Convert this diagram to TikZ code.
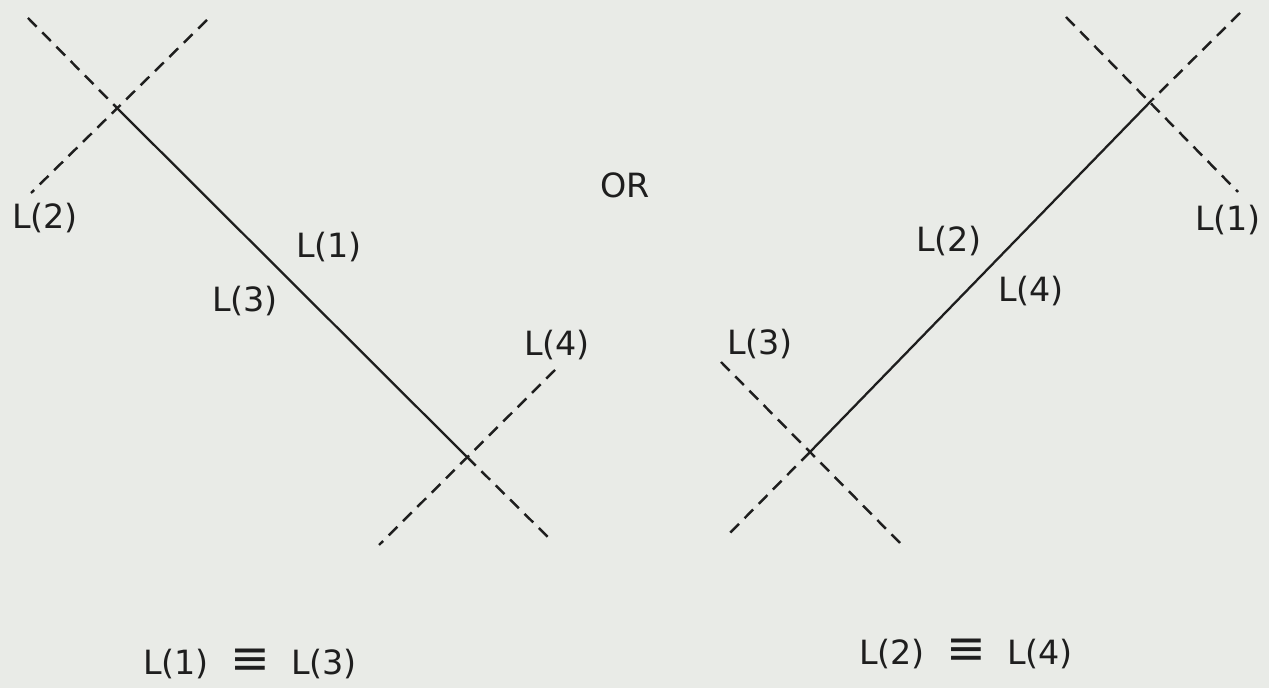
\documentclass[tikz,border=0pt]{standalone}
\usepackage{fontspec}
\setmainfont{DejaVu Sans}
\definecolor{paper}{RGB}{233,235,231}
\definecolor{ink}{RGB}{30,30,30}
\newcommand{\bigeq}{{\fontsize{27}{27}\selectfont ≡}}
\begin{document}
\begin{tikzpicture}[x=0.02cm, y=-0.02cm,
    ray/.style={ink, line width=1.3pt},
    guide/.style={ink, line width=1.4pt, dash pattern=on 7pt off 4.5pt},
    lab/.style={ink, font=\fontsize{19}{23}\selectfont, inner sep=0pt}]
    \fill[paper] (0,0) rectangle (1269,688);
    \useasboundingbox (0,0) rectangle (1269,688);

    % left case
    \coordinate (A) at (117,108);
    \coordinate (B) at (467,457);
    \coordinate (A1) at (28,18);
    \coordinate (A2) at (207,20);
    \coordinate (A3) at (31,193);
    \coordinate (B1) at (553,542);
    \coordinate (B2) at (555,370);
    \coordinate (B3) at (379,545);

    \draw[ray] (A) -- (B);
    \draw[guide] (A1) -- (A);
    \draw[guide] (A2) -- (A3);
    \draw[guide] (B) -- (B1);
    \draw[guide] (B2) -- (B3);

    % right case
    \coordinate (C) at (1152,100);
    \coordinate (D) at (810,452);
    \coordinate (C1) at (1240,13);
    \coordinate (C2) at (1066,17);
    \coordinate (C3) at (1238,192);
    \coordinate (D1) at (725,538);
    \coordinate (D2) at (721,362);
    \coordinate (D3) at (900,543);

    \draw[ray] (C) -- (D);
    \draw[guide] (C1) -- (C);
    \draw[guide] (C2) -- (C3);
    \draw[guide] (D) -- (D1);
    \draw[guide] (D2) -- (D3);

    \node[lab] (or) at (625,185) {OR};

    \node[lab] (l2a) at (45,218) {L(2)};
    \node[lab] (l1a) at (329,247) {L(1)};
    \node[lab] (l3a) at (245,301) {L(3)};
    \node[lab] (l4a) at (557,345) {L(4)};

    \node[lab] (l1b) at (1228,220) {L(1)};
    \node[lab] (l2b) at (949,241) {L(2)};
    \node[lab] (l4b) at (1031,291) {L(4)};
    \node[lab] (l3b) at (760,344) {L(3)};

    \node[lab] (eqa) at (250,664) {L(1)\ \ \bigeq\ \ L(3)};
    \node[lab] (eqb) at (966,654) {L(2)\ \ \bigeq\ \ L(4)};
\end{tikzpicture}
\end{document}
